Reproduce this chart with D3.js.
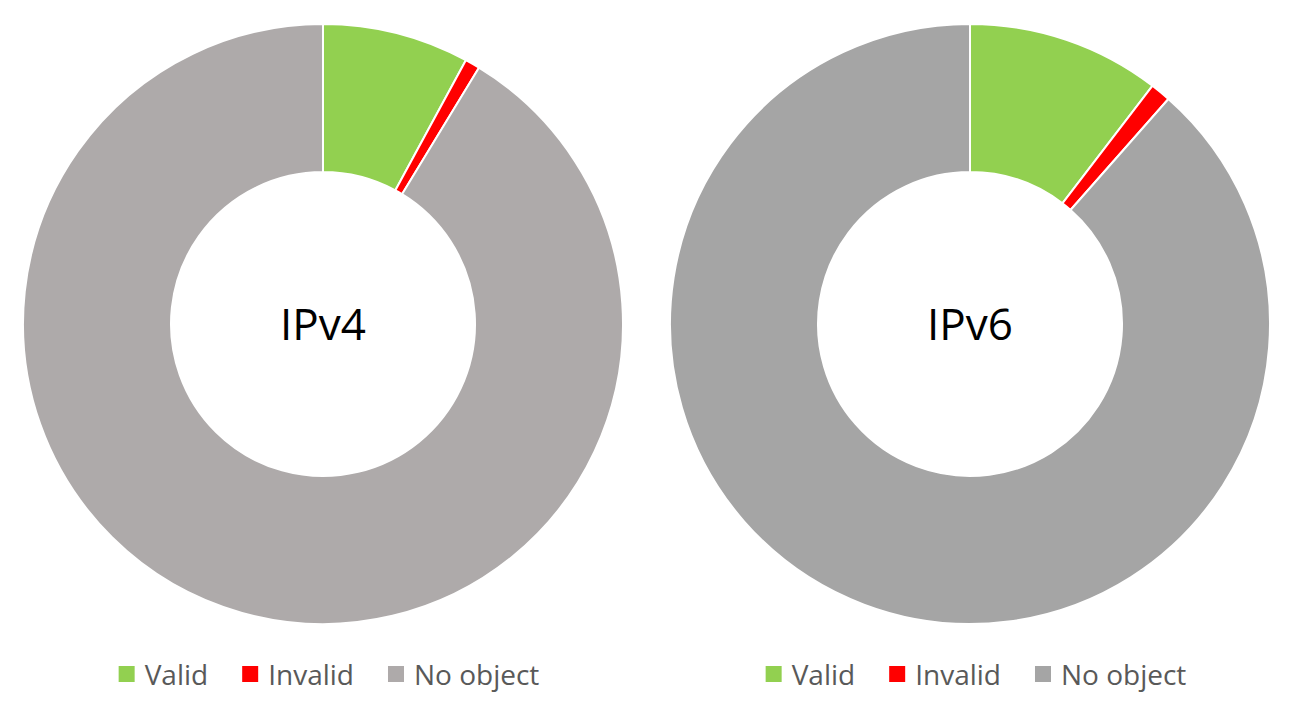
<!DOCTYPE html>
<html><head><meta charset="utf-8">
<script src="https://cdn.jsdelivr.net/npm/d3@7"></script>
<style>body{margin:0;background:#fff}svg{display:block}</style>
</head><body>
<svg id="c" width="1294" height="714"></svg>
<script>
const categories = ["Valid", "Invalid", "No object"];
const charts = ["IPv4", "IPv6"];
const ipv4Values = [7.9, 0.8, 91.3];
const ipv6Values = [10.4, 1.1, 88.5];
const ipv4Colors = ["#92D050", "#FF0000", "#AEAAAA"];
const ipv6Colors = ["#92D050", "#FF0000", "#A5A5A5"];

const svg = d3.select("#c");
const font = "'Open Sans', 'Noto Sans', sans-serif";
const centers = d3.scalePoint().domain(charts).range([323, 970]);
const outerR = 300, innerR = 152, cy = 324;
const pie = d3.pie().sort(null).value(d => d);
const arc = d3.arc().innerRadius(innerR).outerRadius(outerR);

const sets = [
  {name: "IPv4", values: ipv4Values, colors: ipv4Colors},
  {name: "IPv6", values: ipv6Values, colors: ipv6Colors}
];

sets.forEach(s => {
  const cx = centers(s.name);
  const g = svg.append("g").attr("transform", `translate(${cx},${cy})`);
  g.selectAll("path").data(pie(s.values)).join("path")
    .attr("d", arc)
    .attr("fill", (d, i) => s.colors[i])
    .attr("stroke", "#fff").attr("stroke-width", 2).attr("stroke-linejoin", "round");
  g.append("text").attr("text-anchor", "middle").attr("dy", "0.36em")
    .attr("font-family", font).attr("font-size", 44).attr("fill", "#000")
    .text(s.name);

  // legend
  const lg = svg.append("g");
  const items = lg.selectAll("g").data(categories).join("g");
  items.append("rect").attr("width", 16).attr("height", 16).attr("y", 666)
    .attr("fill", (d, i) => s.colors[i]);
  const texts = items.append("text").attr("y", 685).attr("x", 26)
    .attr("font-family", font).attr("font-size", 28).attr("fill", "#595959")
    .text(d => d);
  let x = 0;
  const xs = [];
  texts.each(function(d, i) {
    xs.push(x);
    x += 26 + this.getComputedTextLength() + (i < categories.length - 1 ? 34 : 0);
  });
  const start = cx + 6 - x / 2;
  items.attr("transform", (d, i) => `translate(${start + xs[i]},0)`);
});
</script>
</body></html>
